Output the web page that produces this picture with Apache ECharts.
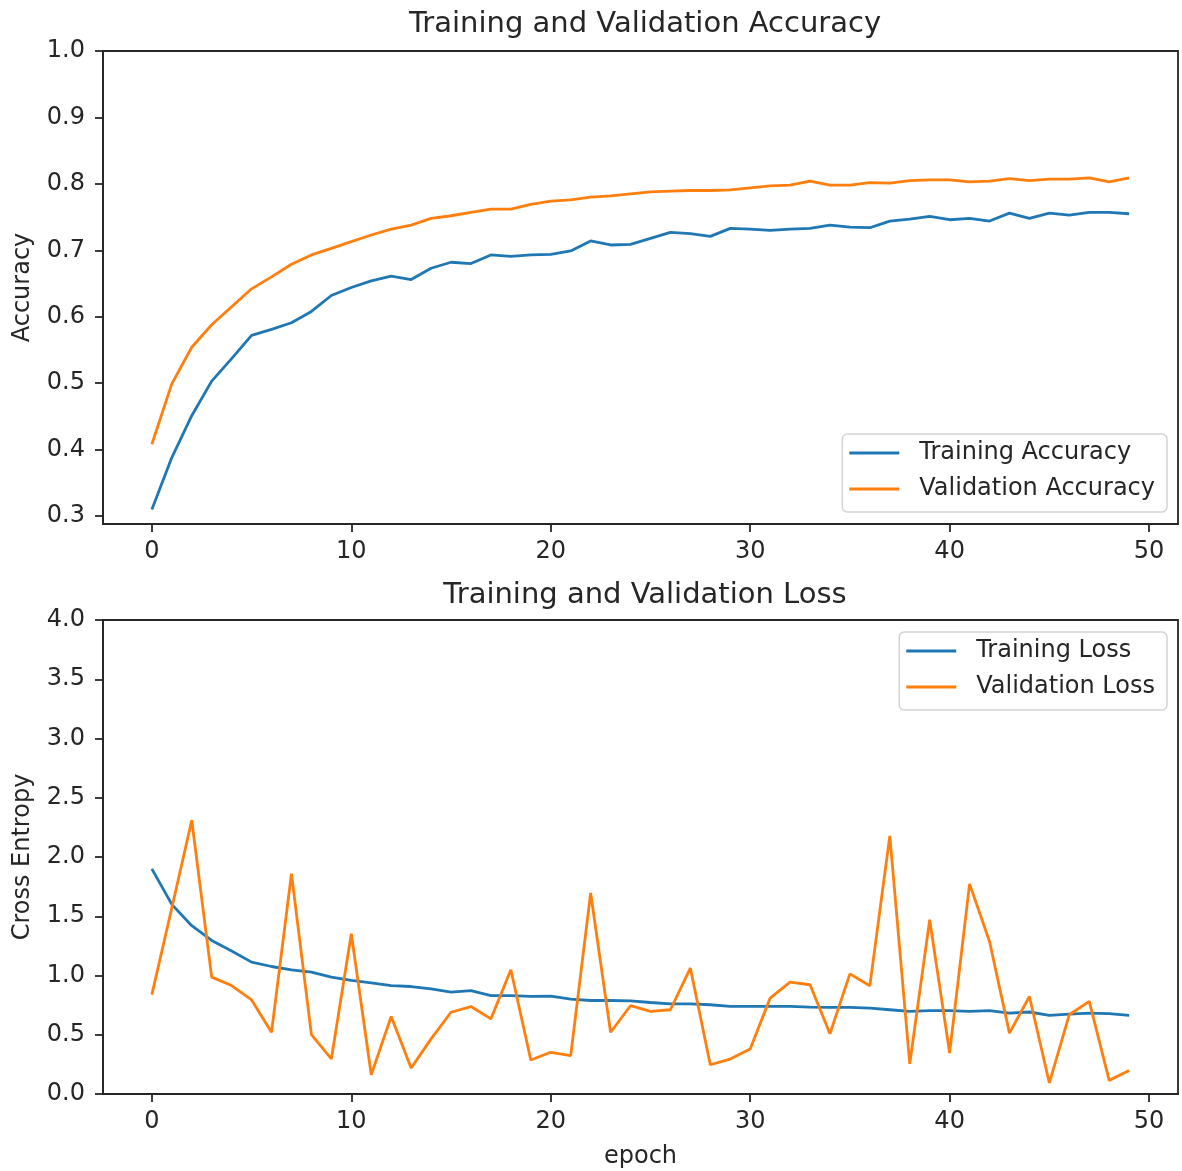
<!DOCTYPE html>
<html>
<head>
<meta charset="utf-8">
<script src="https://cdn.jsdelivr.net/npm/echarts@6/dist/echarts.min.js"></script>
<style>
  html, body { margin: 0; padding: 0; background: #fff; }
  #chart { width: 1182px; height: 1171px; }
</style>
</head>
<body>
<div id="chart"></div>
<script>
// Per-epoch training history
const epochs = Array.from({ length: 50 }, (_, i) => i);

const trainAcc = [0.310, 0.388, 0.451, 0.503, 0.537, 0.572, 0.581, 0.591, 0.608, 0.632,
                  0.644, 0.654, 0.661, 0.656, 0.673, 0.682, 0.680, 0.693, 0.691, 0.693,
                  0.694, 0.699, 0.714, 0.708, 0.709, 0.718, 0.727, 0.725, 0.721, 0.733,
                  0.732, 0.730, 0.732, 0.733, 0.738, 0.735, 0.734, 0.744, 0.747, 0.751,
                  0.746, 0.748, 0.744, 0.756, 0.748, 0.756, 0.753, 0.757, 0.757, 0.755];

const valAcc = [0.408, 0.499, 0.554, 0.588, 0.615, 0.642, 0.660, 0.679, 0.693, 0.703,
                0.713, 0.723, 0.732, 0.738, 0.748, 0.752, 0.757, 0.762, 0.762, 0.769,
                0.774, 0.776, 0.780, 0.782, 0.785, 0.788, 0.789, 0.790, 0.790, 0.791,
                0.794, 0.797, 0.798, 0.804, 0.798, 0.798, 0.802, 0.801, 0.805, 0.806,
                0.806, 0.803, 0.804, 0.808, 0.805, 0.807, 0.807, 0.809, 0.803, 0.809];

const trainLoss = [1.900, 1.600, 1.420, 1.296, 1.206, 1.113, 1.076, 1.048, 1.028, 0.986,
                   0.958, 0.938, 0.915, 0.907, 0.887, 0.859, 0.873, 0.831, 0.831, 0.823,
                   0.825, 0.800, 0.789, 0.789, 0.786, 0.772, 0.761, 0.761, 0.753, 0.739,
                   0.739, 0.739, 0.739, 0.733, 0.731, 0.731, 0.725, 0.711, 0.697, 0.703,
                   0.703, 0.697, 0.703, 0.683, 0.692, 0.663, 0.674, 0.683, 0.678, 0.663];

const valLoss = [0.839, 1.570, 2.310, 0.986, 0.915, 0.794, 0.521, 1.859, 0.501, 0.296,
                 1.352, 0.163, 0.654, 0.220, 0.465, 0.690, 0.738, 0.634, 1.048, 0.287,
                 0.352, 0.324, 1.696, 0.521, 0.745, 0.697, 0.711, 1.062, 0.247, 0.295,
                 0.379, 0.809, 0.944, 0.922, 0.508, 1.014, 0.913, 2.178, 0.255, 1.470,
                 0.346, 1.773, 1.287, 0.514, 0.823, 0.093, 0.669, 0.781, 0.115, 0.199];

const xTicks = [0, 10, 20, 30, 40, 50];
const accTicks = [0.3, 0.4, 0.5, 0.6, 0.7, 0.8, 0.9, 1.0];

const BLUE = '#1f77b4';
const ORANGE = '#ff7f0e';
const INK = '#262626';
const FONT = 'DejaVu Sans';

const pairs = (ys) => epochs.map((e, i) => [e, ys[i]]);

function xAxisFor(gridIndex, extra) {
  return Object.assign({
    gridIndex,
    type: 'value',
    min: -2.45,
    max: 51.45,
    splitLine: { show: false },
    axisLine: { show: true, onZero: false, lineStyle: { color: INK, width: 1.8 } },
    axisTick: { show: true, customValues: xTicks, length: 8, lineStyle: { color: INK, width: 1.8 } },
    axisLabel: { customValues: xTicks, fontSize: 24, fontFamily: FONT, color: INK, margin: 16 }
  }, extra || {});
}

function yLabelStyle(custom) {
  const s = {
    fontSize: 24, fontFamily: FONT, color: INK, margin: 18,
    formatter: (v) => Number(v).toFixed(1)
  };
  if (custom) s.customValues = custom;
  return s;
}

const lineSeries = (name, data, color, xi) => ({
  name, type: 'line', xAxisIndex: xi, yAxisIndex: xi,
  data: pairs(data), symbol: 'none', showSymbol: false,
  color, lineStyle: { color, width: 2.8 }, z: 3
});

const legendBase = {
  orient: 'vertical',
  right: 15,
  icon: 'rect',
  itemWidth: 50,
  itemHeight: 3,
  itemGap: 10,
  padding: [6, 12, 10, 7],
  backgroundColor: 'rgba(255,255,255,0.8)',
  borderColor: '#d3d3d3',
  borderWidth: 1.5,
  borderRadius: 5,
  itemStyle: { borderWidth: 0 },
  textStyle: { fontSize: 24, fontFamily: FONT, color: INK, lineHeight: 26, padding: [0, 0, 0, 15] }
};

const yAxisLine = { show: true, onZero: false, lineStyle: { color: INK, width: 1.8 } };

const chart = echarts.init(document.getElementById('chart'), null, { renderer: 'canvas' });
chart.setOption({
  animation: false,
  backgroundColor: '#ffffff',
  title: [
    { text: 'Training and Validation Accuracy', left: 640, top: 5, textAlign: 'center',
      textStyle: { fontSize: 29, fontWeight: 'normal', fontFamily: FONT, color: INK } },
    { text: 'Training and Validation Loss', left: 640, top: 576, textAlign: 'center',
      textStyle: { fontSize: 29, fontWeight: 'normal', fontFamily: FONT, color: INK } }
  ],
  legend: [
    Object.assign({}, legendBase, { top: 434, data: ['Training Accuracy', 'Validation Accuracy'] }),
    Object.assign({}, legendBase, { top: 632, data: ['Training Loss', 'Validation Loss'] })
  ],
  grid: [
    { left: 103, top: 51, width: 1075, height: 473, show: true, borderColor: INK, borderWidth: 1.8, backgroundColor: 'transparent' },
    { left: 103, top: 620, width: 1075, height: 474, show: true, borderColor: INK, borderWidth: 1.8, backgroundColor: 'transparent' }
  ],
  xAxis: [
    xAxisFor(0),
    xAxisFor(1, {
      name: 'epoch', nameLocation: 'middle', nameGap: 51,
      nameTextStyle: { fontSize: 24, fontFamily: FONT, color: INK }
    })
  ],
  yAxis: [
    {
      gridIndex: 0, type: 'value', min: 0.288, max: 1.0,
      splitLine: { show: false },
      axisLine: yAxisLine,
      axisTick: { show: true, customValues: accTicks, length: 8, lineStyle: { color: INK, width: 1.8 } },
      axisLabel: yLabelStyle(accTicks),
      name: 'Accuracy', nameLocation: 'middle', nameGap: 68, nameRotate: 90,
      nameTextStyle: { fontSize: 24, fontFamily: FONT, color: INK }
    },
    {
      gridIndex: 1, type: 'value', min: 0, max: 4, interval: 0.5,
      splitLine: { show: false },
      axisLine: yAxisLine,
      axisTick: { show: true, length: 8, lineStyle: { color: INK, width: 1.8 } },
      axisLabel: yLabelStyle(null),
      name: 'Cross Entropy', nameLocation: 'middle', nameGap: 68, nameRotate: 90,
      nameTextStyle: { fontSize: 24, fontFamily: FONT, color: INK }
    }
  ],
  series: [
    lineSeries('Training Accuracy', trainAcc, BLUE, 0),
    lineSeries('Validation Accuracy', valAcc, ORANGE, 0),
    lineSeries('Training Loss', trainLoss, BLUE, 1),
    lineSeries('Validation Loss', valLoss, ORANGE, 1)
  ]
});
</script>
</body>
</html>
